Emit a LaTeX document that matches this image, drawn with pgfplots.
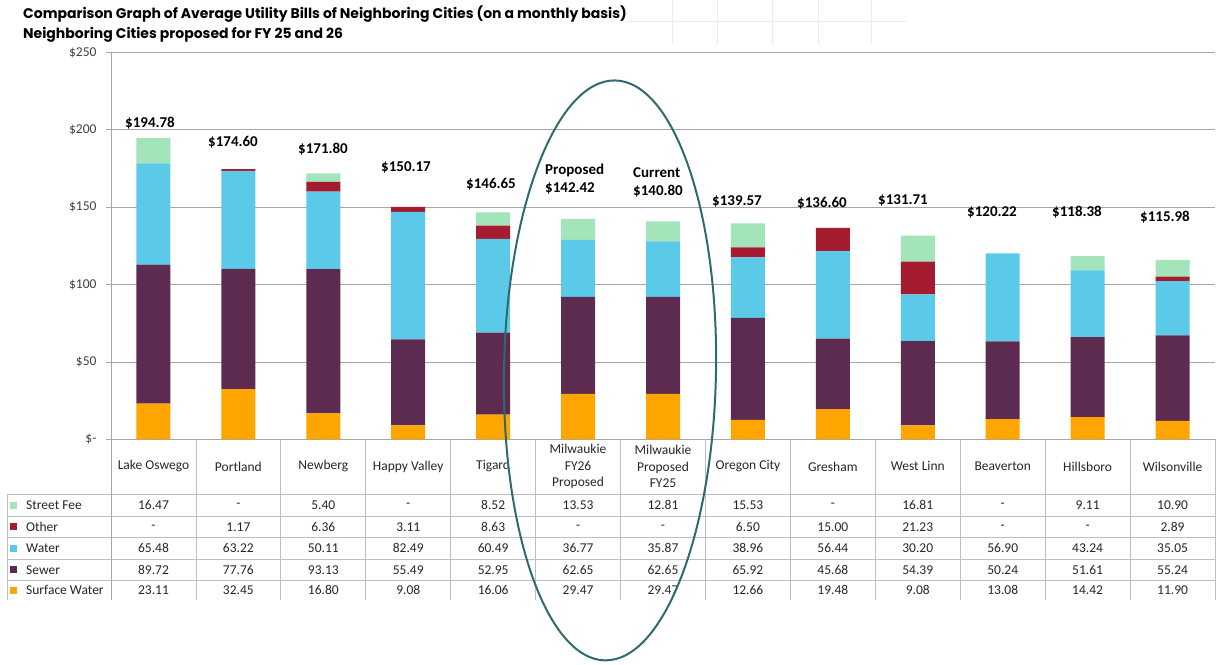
\documentclass[border=0pt]{standalone}
\usepackage{pgfplots}
\usepackage{pgfplotstable}
\pgfplotsset{compat=1.18}
\usepackage{fontspec}
\setmainfont{Carlito}
\newfontfamily\titlefont{Poppins}
\pgfkeys{/pgf/number format/assume math mode=true}

\definecolor{cStreet}{HTML}{A3E4BA}
\definecolor{cOther}{HTML}{A51C30}
\definecolor{cWater}{HTML}{5BC9E8}
\definecolor{cSewer}{HTML}{5E2B50}
\definecolor{cSurf}{HTML}{FFA500}
\definecolor{axisgray}{HTML}{A6A6A6}
\definecolor{tablegray}{HTML}{BFBFBF}
\definecolor{sheetgray}{HTML}{EBEBEB}
\definecolor{txt}{HTML}{262626}
\definecolor{ticktxt}{HTML}{404040}
\definecolor{ringc}{HTML}{2F6B6E}

% monthly bill components per city
\pgfplotstableread[col sep=comma]{
idx,surf,sewer,water,other,street
0,23.11,89.72,65.48,0,16.47
1,32.45,77.76,63.22,1.17,0
2,16.80,93.13,50.11,6.36,5.40
3,9.08,55.49,82.49,3.11,0
4,16.06,52.95,60.49,8.63,8.52
5,29.47,62.65,36.77,0,13.53
6,29.47,62.65,35.87,0,12.81
7,12.66,65.92,38.96,6.50,15.53
8,19.48,45.68,56.44,15.00,0
9,9.08,54.39,30.20,21.23,16.81
10,13.08,50.24,56.90,0,0
11,14.42,51.61,43.24,0,9.11
12,11.90,55.24,35.05,2.89,10.90
}\bills

\newcommand\cellval[2]{%
  \pgfplotstablegetelem{#1}{#2}\of\bills
  \pgfmathtruncatemacro\iszero{\pgfplotsretval==0}%
  \ifnum\iszero=1 -\else\pgfmathprintnumber[fixed,fixed zerofill,precision=2]{\pgfplotsretval}\fi}

\newcommand\billtotal[1]{%
  \pgfplotstablegetelem{#1}{surf}\of\bills\let\va\pgfplotsretval
  \pgfplotstablegetelem{#1}{sewer}\of\bills\let\vb\pgfplotsretval
  \pgfplotstablegetelem{#1}{water}\of\bills\let\vc\pgfplotsretval
  \pgfplotstablegetelem{#1}{other}\of\bills\let\vd\pgfplotsretval
  \pgfplotstablegetelem{#1}{street}\of\bills\let\ve\pgfplotsretval
  \pgfmathsetmacro\vt{\va+\vb+\vc+\vd+\ve}%
  \$\pgfmathprintnumber[fixed,fixed zerofill,precision=2]{\vt}}

\newcommand\tfont{\fontsize{13.5}{16.5}\selectfont}
\newcommand\hfont{\titlefont\bfseries\fontsize{14}{16}\selectfont}

\begin{document}
\begin{tikzpicture}
\begin{axis}[
  at={(0,0)}, anchor=south west,
  scale only axis, width=1104pt, height=387pt,
  xmin=-0.5, xmax=12.5, ymin=0, ymax=250,
  ybar stacked, bar width=34pt,
  axis lines*=left,
  axis line style={draw=axisgray, line width=0.8pt},
  ymajorgrids, grid style={draw=axisgray, line width=0.8pt},
  ytick={0,50,...,250},
  yticklabels={\$-,\$50,\$100,\$150,\$200,\$250},
  tick align=outside, major tick length=5pt,
  ytick style={draw=axisgray, line width=0.8pt},
  xtick={0,...,12}, xtick style={draw=none},
  xticklabels={Lake Oswego, Portland, Newberg, Happy Valley, Tigard,
    {Milwaukie\\FY26\\Proposed}, {Milwaukie\\Proposed\\FY25},
    Oregon City, Gresham, West Linn, Beaverton, Hillsboro, Wilsonville},
  x tick label style={anchor=center, yshift=-22pt, align=center,
    font=\tfont, text=txt},
  y tick label style={font=\tfont, text=ticktxt, xshift=-6pt},
  clip=false,
]
\addplot[fill=cSurf, draw=none] table[x=idx, y=surf] {\bills};
\addplot[fill=cSewer, draw=none] table[x=idx, y=sewer] {\bills};
\addplot[fill=cWater, draw=none] table[x=idx, y=water] {\bills};
\addplot[fill=cOther, draw=none] table[x=idx, y=other] {\bills};
\addplot[fill=cStreet, draw=none] table[x=idx, y=street] {\bills};
\end{axis}

\begin{scope}[x=1pt, y=1pt]
% page frame, in reference pixels
\path (-111,439) rectangle (1106,-225);

% spreadsheet cell lines behind the title
\foreach \gx in {672,717,772,818,871}
  \draw[sheetgray, line width=0.8pt] ({\gx-111},439) -- ({\gx-111},{439-44});
\draw[sheetgray, line width=0.8pt] ({627-111},{439-21}) -- ({907-111},{439-21});

% titles
\node[anchor=base west, inner sep=0pt, font=\hfont]
  at ({23-111},{439-18}) {Comparison Graph of Average Utility Bills of Neighboring Cities (on a monthly basis)};
\node[anchor=base west, inner sep=0pt, font=\hfont]
  at ({23-111},{439-38}) {Neighboring Cities proposed for FY 25 and 26};

% data table grid
\foreach \hy in {494,516,537,559,580}
  \draw[tablegray, line width=0.8pt] ({7-111},{439-\hy}) -- (1104,{439-\hy});
\draw[tablegray, line width=0.8pt] ({7-111},{439-494}) -- ({7-111},{439-600});
\foreach \k in {1,...,13}
  \draw[tablegray, line width=0.8pt] ({\k*84.923},0) -- ({\k*84.923},{439-600});
\draw[axisgray, line width=0.8pt] (0,0) -- (0,{439-600});

% legend column
\foreach \cy/\cc/\lab in {505/cStreet/Street Fee, 526.5/cOther/Other, 548/cWater/Water,
    569.5/cSewer/Sewer, 590/cSurf/Surface Water}{
  \fill[\cc] ({10.5-111},{439-\cy-3.5}) rectangle ({17.5-111},{439-\cy+3.5});
  \node[anchor=west, inner sep=0pt, font=\tfont, text=txt] at ({26-111},{439-\cy}) {\lab};
}

% table values
\foreach \r in {0,...,12}{
  \foreach \cy/\col in {505/street, 526.5/other, 548/water, 569.5/sewer, 590/surf}{
    \node[font=\tfont, text=txt, inner sep=0pt] at ({(\r+0.5)*84.923},{439-\cy}) {\cellval{\r}{\col}};
  }
}

% totals above bars
\foreach \r/\lx/\ly in {0/150/123, 1/233/142, 2/323/149, 3/406/167, 4/491/184,
    7/737/201, 8/822/203, 9/903/200, 10/992/212, 11/1077/212, 12/1165/217}{
  \node[font=\bfseries\fontsize{15}{18}\selectfont, inner sep=0pt] at ({\lx-111},{439-\ly}) {\billtotal{\r}};
}
\node[anchor=west, align=left, inner sep=0pt, font=\bfseries\fontsize{15}{18}\selectfont]
  at ({545-111},{439-179}) {Proposed\\\billtotal{5}};
\node[anchor=west, align=left, inner sep=0pt, font=\bfseries\fontsize{15}{18}\selectfont]
  at ({633-111},{439-182}) {Current\\\billtotal{6}};

% ring round the two Milwaukie bars
\draw[ringc, line width=2pt, rotate around={-1:({610-111},{439-370})}]
  ({610-111},{439-370}) ellipse [x radius=106, y radius=290];
\end{scope}
\end{tikzpicture}
\end{document}
